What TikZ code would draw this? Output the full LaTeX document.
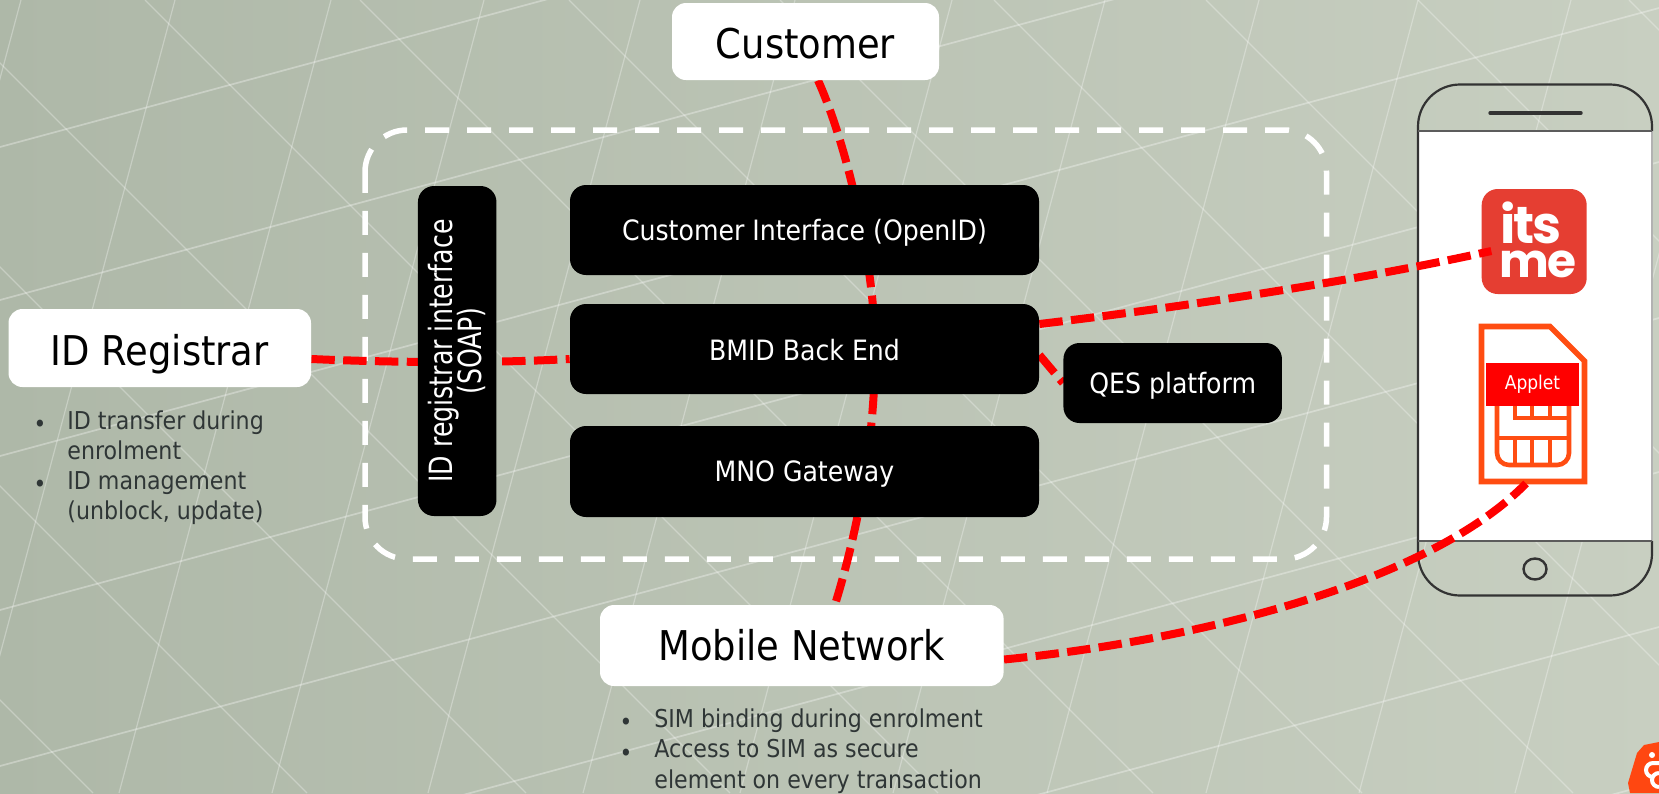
\documentclass[tikz,border=0pt]{standalone}
\usepackage{fontspec}
\usepackage{graphicx}
\usetikzlibrary{calc}
\setmainfont{DejaVu Sans Condensed}
\newfontfamily\logofont{Poppins}[LetterSpace=-4]
\definecolor{bgL}{HTML}{AEB8A8}
\definecolor{bgR}{HTML}{C8CFC1}
\definecolor{netred}{HTML}{FF0000}
\definecolor{simorange}{HTML}{FF4D12}
\definecolor{logored}{HTML}{E53E32}
\definecolor{bullettext}{HTML}{2F3636}
\definecolor{phoneline}{HTML}{333333}
\pgfdeclarelayer{back}
\pgfdeclarelayer{lines}
\pgfsetlayers{back,lines,main}
\newcommand{\dn}[2]{\raisebox{-#1pt}{#2}}
\tikzset{
  x=0.5pt,y=-0.5pt,
  whitebox/.style={rectangle,rounded corners=7pt,fill=white,text=black,inner sep=0pt,font=\fontsize{20.5}{24}\selectfont,text height=15pt,text depth=0pt},
  blackbox/.style={rectangle,rounded corners=8pt,fill=black,text=white,inner sep=0pt,font=\fontsize{14}{16.5}\selectfont,text height=10.2pt,text depth=0pt},
  redline/.style={draw=netred,line width=4pt,dash pattern=on 11.7pt off 4.2pt},
  gridline/.style={draw=white,draw opacity=0.3,line width=0.6pt},
  gridlineb/.style={draw=white,draw opacity=0.32,line width=0.85pt},
  bullettxt/.style={text=bullettext,font=\fontsize{12.3}{15.3}\selectfont,inner sep=0pt,align=left,anchor=north west},
  bulletdot/.style={text=bullettext,font=\fontsize{12}{15.3}\selectfont,inner sep=0pt},
  simline/.style={draw=simorange,line width=2.8pt},
}
\begin{document}
\begin{tikzpicture}
\useasboundingbox (0,0) rectangle (1659,793);
% boxes
\node[whitebox,minimum width=133.5pt,minimum height=38.5pt] (cust) at (805.5,41.5) {\dn{0.8}{Customer}};
\node[whitebox,minimum width=151.25pt,minimum height=39pt] (reg) at (159.75,348) {\dn{1}{ID Registrar}};
\node[whitebox,minimum width=201.8pt,minimum height=40.5pt] (mob) at (801.8,645.5) {Mobile Network};
\node[blackbox,minimum width=234.5pt,minimum height=45pt] (ci) at (804.5,230) {Customer Interface (OpenID)};
\node[blackbox,minimum width=234.5pt,minimum height=45pt] (bmid) at (804.5,349) {\dn{0.4}{BMID Back End}};
\node[blackbox,minimum width=234.5pt,minimum height=45.5pt] (mno) at (804.5,471.5) {MNO Gateway};
\node[blackbox,minimum width=109.25pt,minimum height=40pt] (qes) at (1172.7,383) {QES platform};
\node[rectangle,rounded corners=8pt,fill=black,text=white,inner sep=0pt,minimum width=165pt,minimum height=39.25pt,rotate=90,font=\fontsize{16}{16.5}\selectfont,text height=16pt,text depth=16pt] (soap) at (457.2,351) {\dn{5.5}{\scalebox{0.877}[1]{\begin{tabular}{@{}c@{}}ID registrar interface\\[-2.5pt](SOAP)\end{tabular}}}};
% bullet texts
\node[bulletdot] (b1) at (40,426) {•};
\node[bullettxt] (t1) at (67,410) {ID transfer during\\enrolment};
\node[bulletdot] (b2) at (40,486) {•};
\node[bullettxt] (t2) at (67,471) {ID management\\(unblock, update)};
\node[bulletdot] (b3) at (626,724) {•};
\node[bullettxt] (t3) at (654,708) {SIM binding during enrolment};
\node[bulletdot] (b4) at (626,755) {•};
\node[bullettxt] (t4) at (654,739) {Access to SIM as secure\\element on every transaction};
\begin{pgfonlayer}{back}
  \shade[left color=bgL,right color=bgR] (0,0) rectangle (1659,793);
  \begin{scope}
    \clip (0,0) rectangle (1659,793);
    % three families of faint lines
    \foreach \a in {147,300,456,610,766,920,1075,1230}
      \draw[gridlineb] (0,\a) -- (1659,\a-448);
    \foreach \a in {21,175,331,484,640,795,952,1105,1259,1418,1571,1727}
      \draw[gridline] (\a,0) -- (\a-212,793);
    \foreach \a in {-700,-486,-267,-63,145,360,569,780,994,1206,1418,1629}
      \draw[gridline] (\a,0) -- (\a+793,793);
  \end{scope}
  % phone
  \fill[white] (1418,131) rectangle (1652,541);
  \draw[phoneline,line width=1.1pt,rounded corners=21pt] (1418,541) -- (1418,84.5) -- (1652,84.5) -- (1652,131);
  \draw[phoneline,line width=1.1pt,rounded corners=21pt] (1418,541) -- (1418,595.5) -- (1652,595.5) -- (1652,541);
  \draw[gray!60,line width=0.9pt] (1652,131) -- (1652,541);
  \draw[phoneline!80,line width=0.9pt] (1418,131) -- (1652,131);
  \draw[phoneline!80,line width=0.9pt] (1418,541) -- (1652,541);
  \draw[phoneline,line width=1.7pt,line cap=round] (1490,113) -- (1581,113);
  \draw[phoneline,line width=1.2pt] (1535,569) ellipse [x radius=11.5,y radius=10.5];
  % itsme icon
  \node[rectangle,rounded corners=8pt,fill=logored,minimum width=52.5pt,minimum height=52.5pt,inner sep=0pt] (icon) at (1534.2,241.5) {};
  \node[text=white,inner sep=0pt,anchor=base west,font=\logofont\bfseries\fontsize{26}{26}\selectfont] (its) at (1500,243) {its};
  \node[text=white,inner sep=0pt,anchor=base west,font=\logofont\bfseries\fontsize{23.5}{23.5}\selectfont] (me) at (1499,277) {me};
  % SIM card
  \draw[simline,line join=miter] (1481.5,326.5) -- (1550,326.5) -- (1584.5,361) -- (1584.5,481.5) -- (1481.5,481.5) -- cycle;
  \draw[draw=simorange,line width=2.3pt,rounded corners=6pt] (1497,400) -- (1497,465) -- (1569,465) -- (1569,400);
  \draw[draw=simorange,line width=2.3pt] (1497,438) -- (1569,438);
  \draw[draw=simorange,line width=2.3pt] (1515,400) -- (1515,418) -- (1569,418);
  \foreach \x in {1515,1532,1550} \draw[draw=simorange,line width=2.3pt] (\x,438) -- (\x,465);
  \foreach \x in {1532,1550} \draw[draw=simorange,line width=2.3pt] (\x,400) -- (\x,418);
  \node[rectangle,fill=netred,text=white,inner sep=0pt,minimum width=46.5pt,minimum height=21.5pt,font=\fontsize{9.5}{11}\selectfont] (applet) at (1532.5,384) {Applet};
  \node[rectangle,inner sep=0pt,minimum width=53pt,minimum height=79pt] (sim) at (1533,404) {};
  % corner logo
  \fill[simorange!92!red] (1630,793) -- (1628,783) -- (1637,753) -- (1644,745) -- (1659,742) -- (1659,793) -- cycle;
  \fill[white] (1652,755) circle [radius=3];
  \draw[white,line width=2pt] (1659,763) -- (1653,763) arc [start angle=270,end angle=90,radius=7];
  \draw[white,line width=2pt] (1659,787) arc [start angle=90,end angle=270,radius=7];
\end{pgfonlayer}
\begin{pgfonlayer}{lines}
  \draw[draw=white,line width=2.75pt,dash pattern=on 12pt off 9pt,rounded corners=21pt]
    (365,172) -- (365,130) -- (1326.5,130) -- (1326.5,559) -- (365,559) -- (365,172);
  \draw[redline] ([xshift=6.25pt]cust.south) .. controls (845,140) and (875,260) .. (875,350) .. controls (875,440) and (858,530) .. ([xshift=16.6pt]mob.north);
  \draw[redline] ([yshift=-5.5pt]reg.east) .. controls (400,363) and (500,363) .. ([yshift=-5pt]bmid.west);
  \draw[redline] ([yshift=12.5pt]bmid.east) .. controls (1200,305) and (1370,278) .. ([xshift=5pt,yshift=-4.75pt]icon.west);
  \draw[redline] ([yshift=-3pt]bmid.east) -- (qes.west);
  \draw[redline] ([yshift=-7pt]mob.east) .. controls (1200,640) and (1430,582) .. ([xshift=-3.5pt]sim.south);
\end{pgfonlayer}
\end{tikzpicture}
\end{document}
